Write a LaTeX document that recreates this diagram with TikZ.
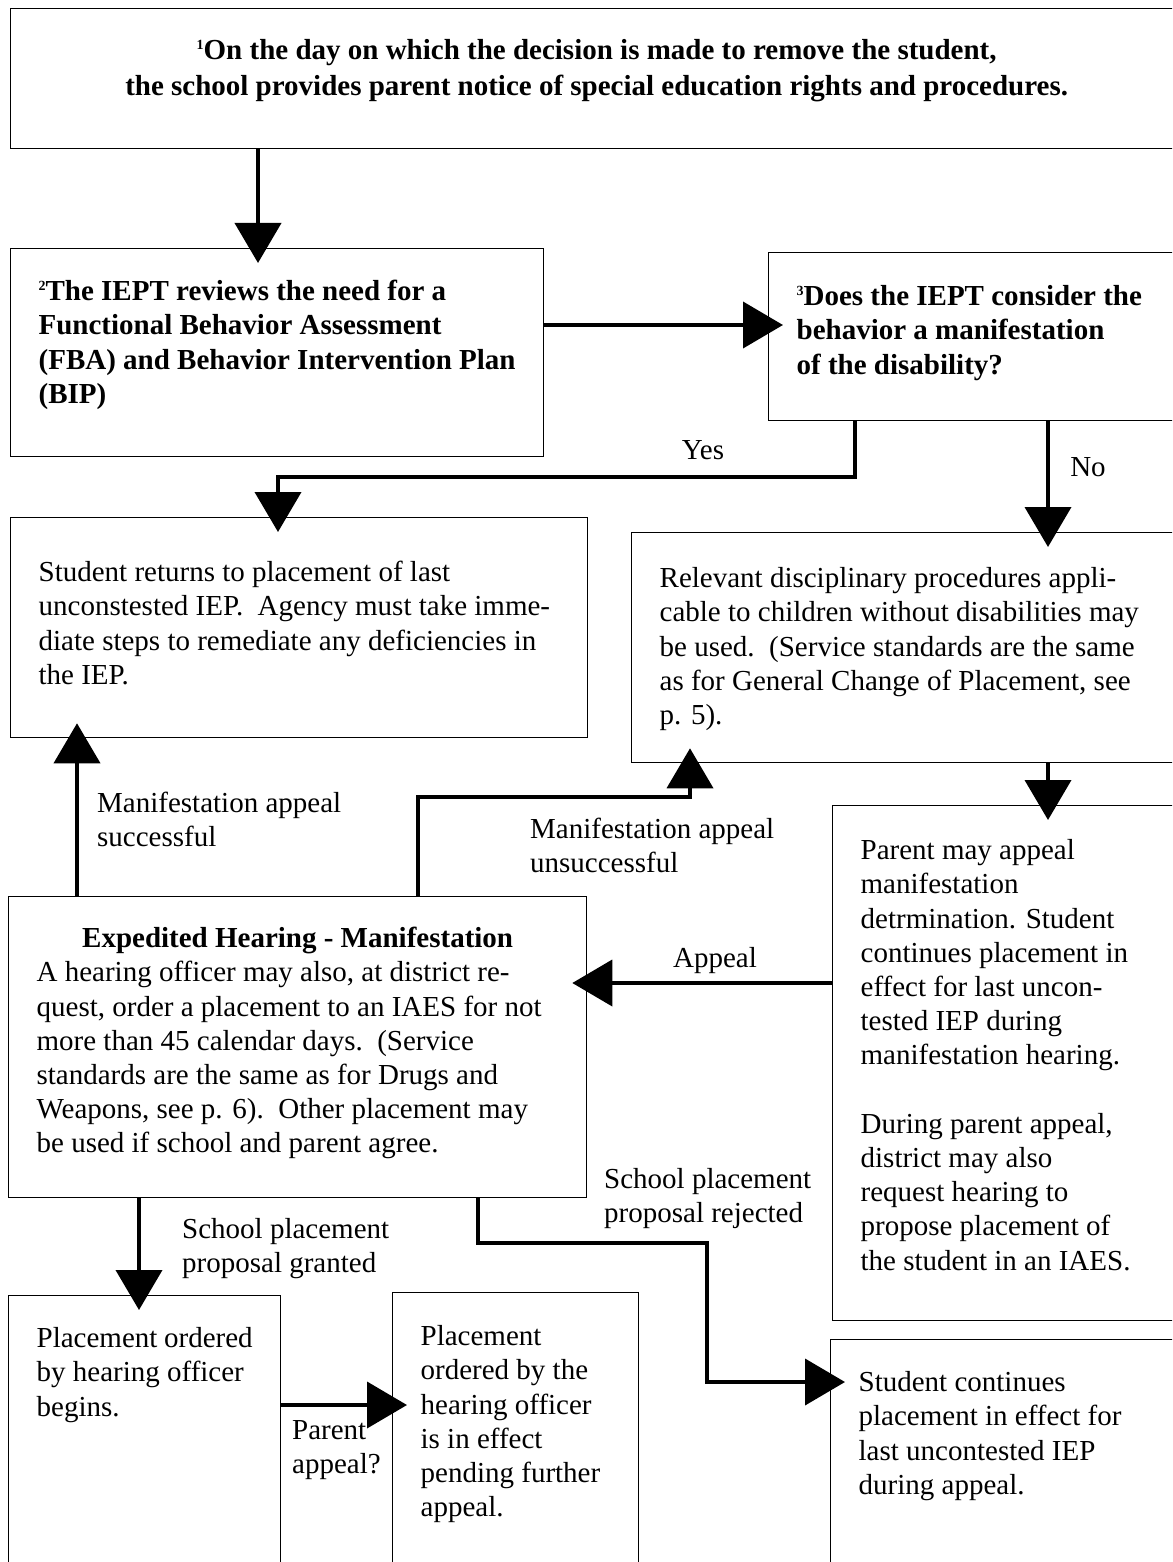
\documentclass[tikz,border=0pt]{standalone}
\usepackage{fontspec}
\setmainfont{Liberation Serif}
\usetikzlibrary{arrows.meta, calc}

\newcommand{\chartfont}{\fontsize{29}{34.2}\selectfont}
\newcommand{\stepnum}[1]{\raisebox{10pt}{\fontsize{14}{14}\selectfont #1}}
% width, height, first baseline, text
\newcommand{\boxtext}[4]{%
  \begin{minipage}[t][#2][t]{#1}\raggedright\rule{0pt}{#3}#4\end{minipage}}

\tikzset{
  %% Styles %%
  box/.style = {draw, line width=1.3pt, anchor=north west, inner xsep=28pt, inner ysep=0pt},
  flow/.style = {line width=4pt, -{Triangle[length=40pt, width=46pt]}, shorten >=-15pt},
  lbl/.style = {inner sep=0pt, anchor=north west, align=left},
}

\begin{document}
\begin{tikzpicture}[x=1pt, y=-1pt, font=\chartfont]
  \useasboundingbox (0,0) rectangle (1172,1562);
  \clip (0,0) rectangle (1172,1562);

  % Boxes
  \node[box] (notice) at (10,8) {\boxtext{1116pt}{140pt}{51pt}{\centering\bfseries
    \stepnum{1}On the day on which the decision is made to remove the student,\\[2pt]
    the school provides parent notice of special education rights and procedures.}};
  \node[box] (iept) at (10,248) {\boxtext{477pt}{208pt}{52pt}{\bfseries
    \stepnum{2}The IEPT reviews the need for a\\
    Functional Behavior Assessment\\
    (FBA) and Behavior Intervention Plan\\
    (BIP)}};
  \node[box] (question) at (768,252) {\boxtext{444pt}{168pt}{53pt}{\bfseries
    \stepnum{3}Does the IEPT consider the\\
    behavior a manifestation\\
    of the disability?}};
  \node[box] (returns) at (10,517) {\boxtext{521pt}{220pt}{64pt}{%
    Student returns to placement of last\\
    unconstested IEP.\ \ Agency must take imme-\\
    diate steps to remediate any deficiencies in\\
    the IEP.}};
  \node[box] (relevant) at (631,532) {\boxtext{544pt}{230pt}{55pt}{%
    Relevant disciplinary procedures appli-\\
    cable to children without disabilities may\\
    be used.\ \ (Service standards are the same\\
    as for General Change of Placement, see\\
    p. 5).}};
  \node[box] (parent) at (832,805) {\boxtext{344pt}{515pt}{54pt}{%
    Parent may appeal\\
    manifestation\\
    detrmination. Student\\
    continues placement in\\
    effect for last uncon-\\
    tested IEP during\\
    manifestation hearing.\\[34.2pt]
    During parent appeal,\\
    district may also\\
    request hearing to\\
    propose placement of\\
    the student in an IAES.}};
  \node[box] (hearing) at (8,896) {\boxtext{522pt}{301pt}{51pt}{%
    \makebox[\linewidth]{\bfseries Expedited Hearing - Manifestation}\\
    A hearing officer may also, at district re-\\
    quest, order a placement to an IAES for not\\
    more than 45 calendar days.\ \ (Service\\
    standards are the same as for Drugs and\\
    Weapons, see p. 6).\ \ Other placement may\\
    be used if school and parent agree.}};
  \node[box] (ordered) at (8,1295) {\boxtext{216pt}{300pt}{52pt}{%
    Placement ordered\\
    by hearing officer\\
    begins.}};
  \node[box] (effect) at (392,1292) {\boxtext{190pt}{300pt}{53pt}{%
    Placement\\
    ordered by the\\
    hearing officer\\
    is in effect\\
    pending further\\
    appeal.}};
  \node[box] (continues) at (830,1339) {\boxtext{344pt}{300pt}{52pt}{%
    Student continues\\
    placement in effect for\\
    last uncontested IEP\\
    during appeal.}};

  % Arrows
  \coordinate (noticeout) at ([xshift=248pt]notice.south west);
  \coordinate (ieptout) at ([yshift=-77pt]iept.north east);
  \coordinate (yesout) at ([xshift=87pt]question.south west);
  \coordinate (noout) at ([xshift=280pt]question.south west);
  \coordinate (relevantout) at ([xshift=417pt]relevant.south west);
  \coordinate (succout) at ([xshift=69pt]hearing.north west);
  \coordinate (unsuccout) at ([xshift=410pt]hearing.north west);
  \coordinate (appealout) at ([yshift=-178pt]parent.north west);
  \coordinate (grantout) at ([xshift=131pt]hearing.south west);
  \coordinate (rejectout) at ([xshift=470pt]hearing.south west);
  \coordinate (parentout) at ([yshift=-110pt]ordered.north east);
  \coordinate (yesbend) at (278,477);
  \coordinate (unsuccbend) at (690,797);
  \coordinate (rejectbend) at (707,1243);
  \coordinate (rejectin) at ([yshift=-43pt]continues.north west);

  \draw[flow] (noticeout) -- (noticeout |- iept.north);
  \draw[flow] (ieptout) -- (ieptout -| question.west);
  \draw[flow] (yesout) |- (yesbend) -- (yesbend |- returns.north);
  \draw[flow] (noout) -- (noout |- relevant.north);
  \draw[flow] (relevantout) -- (relevantout |- parent.north);
  \draw[flow] (succout) -- (succout |- returns.south);
  \draw[flow] (unsuccout) |- (unsuccbend) -- (unsuccbend |- relevant.south);
  \draw[flow] (appealout) -- (appealout -| hearing.east);
  \draw[flow] (grantout) -- (grantout |- ordered.north);
  \draw[flow] (rejectout) |- (rejectbend) |- (rejectin);
  \draw[flow] (parentout) -- (parentout -| effect.west);

  % Arrow labels
  \node[inner sep=0pt, anchor=base] (yes) at (703,459) {Yes};
  \node[inner sep=0pt, anchor=base] (no) at (1088,476) {No};
  \node[lbl] (succ) at (97,792) {\rule{0pt}{20pt}Manifestation appeal\\ successful};
  \node[lbl] (unsucc) at (530,818) {\rule{0pt}{20pt}Manifestation appeal\\ unsuccessful};
  \node[inner sep=0pt, anchor=base] (appeal) at (715,967) {Appeal};
  \node[lbl] (granted) at (182,1218) {\rule{0pt}{20pt}School placement\\ proposal granted};
  \node[lbl] (rejected) at (604,1168) {\rule{0pt}{20pt}School placement\\ proposal rejected};
  \node[lbl] (parentq) at (292,1419) {\rule{0pt}{20pt}Parent\\ appeal?};
\end{tikzpicture}
\end{document}
